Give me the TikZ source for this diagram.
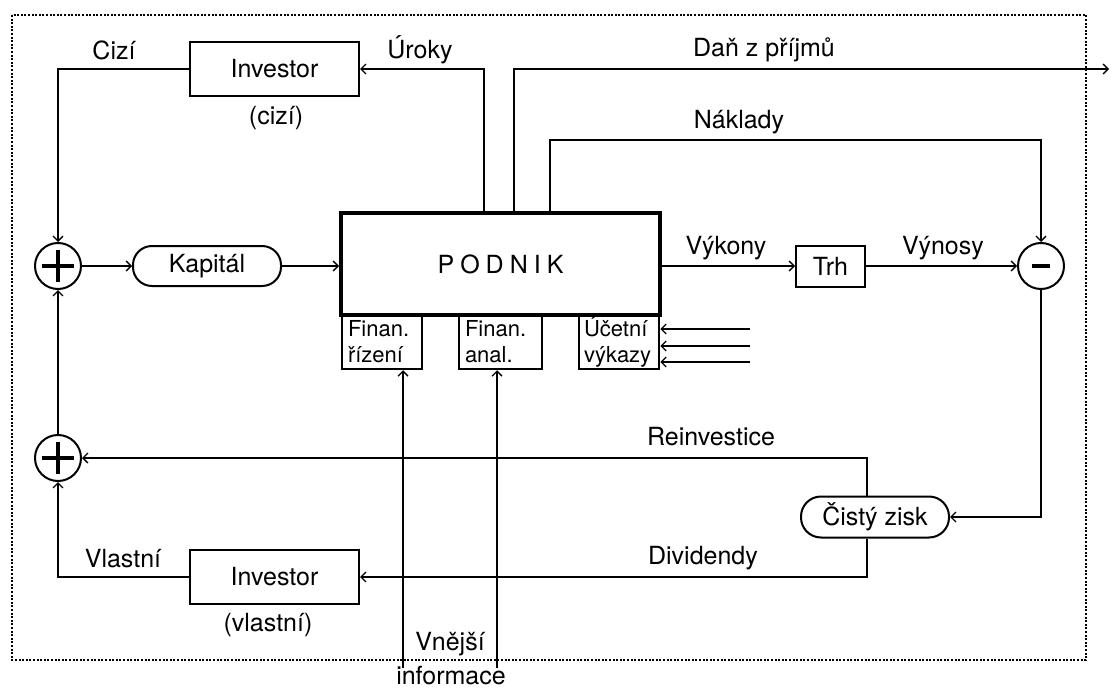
\documentclass[tikz,border=0pt]{standalone}
\usepackage{fontspec}
\setmainfont{TeX Gyre Heros}
\usetikzlibrary{arrows.meta,calc}
\begin{document}
\begin{tikzpicture}[x=1pt,y=-1pt,
 conn/.style={line width=1.3pt, -{Straight Barb[length=5pt,width=10pt,line width=1.3pt]}},
 box/.style={draw, line width=2pt, inner sep=0pt, font=\fontsize{25}{29}\selectfont},
 pill/.style={box, rounded corners=19pt},
 sbox/.style={draw, line width=2.5pt, minimum height=54pt, inner xsep=6pt, inner ysep=0pt, align=left, font=\fontsize{22}{26}\selectfont},
 sumnode/.style={circle, draw, line width=2pt, minimum size=46pt, inner sep=0pt},
 lbl/.style={inner sep=0pt, font=\fontsize{25}{29}\selectfont},
 frame/.style={line width=2.2pt, dash pattern=on 2pt off 1.6pt},
 sign/.style={line width=4.5pt}
]
\useasboundingbox (0,0) rectangle (1112,690);
\draw[frame] (12,15) rectangle (1086,660);

% nodes
\node[box, minimum width=169pt, minimum height=54pt] (inv1) at (274.5,69) {Investor};
\node[box, minimum width=169pt, minimum height=54pt] (inv2) at (274.5,577) {Investor};
\node[pill, minimum width=148pt, minimum height=40pt] (kap) at (207,266) {Kapitál};
\node[box, minimum width=69pt, minimum height=41pt] (trh) at (830.5,266) {Trh};
\node[pill, minimum width=148pt, minimum height=41pt, rounded corners=20pt] (cz) at (875,517) {Čistý zisk};
\node[sumnode] (plus1) at (58,266) {};
\node[sumnode] (plus2) at (58,458) {};
\node[sumnode] (minus) at (1041,266) {};

\node[sbox, text width=68pt, minimum width=80pt] (fr) at (382,342) {Finan.\\řízení};
\node[sbox, text width=71pt, minimum width=83pt] (fa) at (500.5,342) {Finan.\\anal.};
\node[sbox, text width=70pt, minimum width=80pt, inner xsep=5pt] (uv) at (619,342) {Účetní\\výkazy};
\node[box, line width=4pt, minimum width=319pt, minimum height=102pt] (pod) at (500.5,264)
 {P\hspace{6pt}O\hspace{6pt}D\hspace{6pt}N\hspace{6pt}I\hspace{6pt}K};

% signs
\draw[sign] ($(plus1.center)+(-16,0)$) -- ($(plus1.center)+(16,0)$);
\draw[sign] ($(plus1.center)+(0,-16)$) -- ($(plus1.center)+(0,16)$);
\draw[sign] ($(plus2.center)+(-16,0)$) -- ($(plus2.center)+(16,0)$);
\draw[sign] ($(plus2.center)+(0,-16)$) -- ($(plus2.center)+(0,16)$);
\draw[line width=3.5pt] ($(minus.center)+(-9,0)$) -- ($(minus.center)+(9,0)$);

% labels
\node[lbl] (lcizi) at (114,50) {Cizí};
\node[lbl] (lcizi2) at (276,118) {(cizí)};
\node[lbl] (luroky) at (420,50) {Úroky};
\node[lbl] (ldan) at (764,50) {Daň z příjmů};
\node[lbl] (lnakl) at (739,122) {Náklady};
\node[lbl] (lvyk) at (726,248) {Výkony};
\node[lbl] (lvyn) at (943,248) {Výnosy};
\node[lbl] (lrein) at (711,437) {Reinvestice};
\node[lbl] (ldiv) at (703,558) {Dividendy};
\node[lbl] (lvl) at (123,559) {Vlastní};
\node[lbl] (lvl2) at (268,625) {(vlastní)};
\node[lbl] (lvne) at (450,644) {Vnější};
\node[lbl] (linf) at (451,676) {informace};

% helper coordinates
\coordinate (xu) at (484,0);
\coordinate (xd) at (514,0);
\coordinate (xn) at (550,0);
\coordinate (yn) at (0,140);
\coordinate (xc) at (867,0);
\coordinate (taxend) at (1109,69);
\coordinate (a1) at (750,329);
\coordinate (a2) at (750,346);
\coordinate (a3) at (750,362);
\coordinate (i1) at (403,668);
\coordinate (i2) at (497,668);

% connectors
\draw[conn] (inv1.west) -| (plus1.north);
\draw[conn] (plus1.east) -- (kap.west);
\draw[conn] (kap.east) -- (kap.east -| pod.west);
\draw[conn] (xu |- pod.north) |- (inv1.east);
\draw[conn] (xd |- pod.north) |- (taxend);
\draw[conn] (xn |- pod.north) -- (xn |- yn) -| (minus.north);
\draw[conn] (trh.west -| pod.east) -- (trh.west);
\draw[conn] (trh.east) -- (minus.west);
\draw[conn] (minus.south) |- (cz.east);
\draw[conn] (xc |- cz.north) |- (plus2.east);
\draw[conn] (xc |- cz.south) |- (inv2.east);
\draw[conn] (inv2.west) -| (plus2.south);
\draw[conn] (plus2.north) -- (plus1.south);
\draw[conn] (a1) -- (a1 -| uv.east);
\draw[conn] (a2) -- (a2 -| uv.east);
\draw[conn] (a3) -- (a3 -| uv.east);
\draw[conn] (i1) -- (i1 |- fr.south);
\draw[conn] (i2) -- (i2 |- fa.south);
\end{tikzpicture}
\end{document}
